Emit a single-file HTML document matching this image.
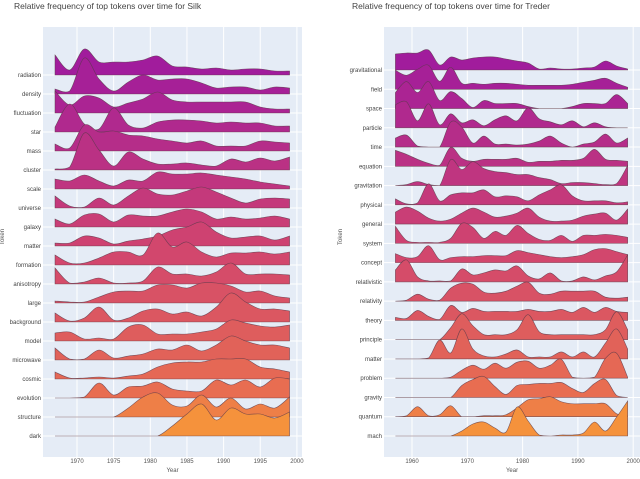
<!DOCTYPE html>
<html><head><meta charset="utf-8"><style>
body{margin:0;background:#fff;width:640px;height:474px;overflow:hidden;font-family:"Liberation Sans",sans-serif}
svg text{font-family:"Liberation Sans",sans-serif}
</style></head><body>
<svg id="c" width="640" height="474"></svg>
<script>
const silkTokens=["radiation","density","fluctuation","star","mass","cluster","scale","universe","galaxy","matter","formation","anisotropy","large","background","model","microwave","cosmic","evolution","structure","dark"];
const silkYears=[1967,1969,1971,1973,1975,1977,1979,1981,1983,1985,1987,1989,1991,1993,1995,1997,1999];
const silkValues=[
[20,5,26,13,13,13,15,19,9,8,6,7,5,6,6,4,4],
[5,3,36,15,3,12,19,14,15,15,11,6,7,7,4,7,6],
[22,8,17,15,6,10,14,21,13,11,11,11,11,11,6,4,4],
[5,28,8,3,24,7,4,10,12,12,11,9,10,9,9,6,6],
[7,3,26,19,20,16,15,12,10,8,10,5,5,5,10,9,8],
[1,3,37,20,4,18,11,6,6,7,5,4,11,8,12,9,13],
[10,8,14,8,3,9,8,17,15,15,16,14,12,10,7,5,3],
[12,2,1,10,3,12,20,14,13,17,21,16,10,5,9,10,9],
[8,3,12,13,5,12,11,11,15,18,15,8,10,8,9,11,8],
[3,3,10,8,2,5,7,10,16,19,24,14,8,9,10,6,10],
[10,2,2,7,13,13,10,32,18,23,13,8,12,12,13,11,13],
[16,1,2,6,1,1,3,17,10,10,8,12,21,10,10,10,9],
[2,1,1,6,11,12,12,18,18,15,20,20,17,11,12,7,5],
[9,1,4,15,2,4,11,13,8,10,6,15,29,20,13,13,11],
[8,9,2,3,2,14,16,7,7,7,9,12,21,18,15,14,16],
[12,1,1,10,2,4,6,11,10,15,9,15,24,19,15,15,12],
[7,1,1,2,1,3,5,12,16,17,17,20,20,20,12,10,7],
[0,0,1,15,3,11,12,16,9,7,7,18,13,18,11,20,19],
[0,0,0,0,0,9,20,24,12,11,22,10,19,8,13,9,20],
[0,0,0,0,0,0,0,0,10,22,32,16,28,22,22,18,24]];
const silkTicks=[1970,1975,1980,1985,1990,1995,2000];

const trederTokens=["gravitational","field","space","particle","time","equation","gravitation","physical","general","system","concept","relativistic","relativity","theory","principle","matter","problem","gravity","quantum","mach"];
const trederYears=[1957,1959,1961,1963,1965,1967,1969,1971,1973,1975,1977,1979,1981,1983,1985,1987,1989,1991,1993,1995,1997,1999];
const trederValues=[
[16,17,17,20,5,13,10,12,13,13,11,9,7,1,2,1,1,2,3,9,4,1],
[19,14,20,24,8,22,6,6,5,6,6,5,4,4,4,4,5,7,9,11,6,2],
[16,27,16,27,8,17,10,1,8,5,5,5,2,0,0,0,2,5,5,5,14,5],
[23,26,7,24,3,14,5,8,2,8,12,7,20,9,6,3,7,1,5,1,0,0],
[9,12,1,0,0,25,20,4,11,3,3,2,3,6,11,4,0,3,5,13,4,9],
[16,12,7,3,1,19,8,5,7,7,7,8,4,5,5,6,6,8,17,7,6,5],
[0,1,4,1,0,26,16,24,17,14,13,11,11,8,6,2,3,3,2,1,2,20],
[6,1,2,21,4,10,12,12,15,8,9,8,4,10,15,20,9,4,4,4,2,3],
[12,17,13,6,3,5,11,16,12,7,8,11,16,7,3,3,4,8,10,11,4,15],
[17,3,1,1,1,5,20,16,5,12,8,18,10,4,3,8,2,8,8,9,8,6],
[9,5,6,17,3,5,6,6,7,7,7,12,10,8,6,5,6,8,13,14,11,8],
[12,22,5,1,1,1,13,7,9,12,11,16,6,3,9,1,1,5,2,6,10,27],
[0,1,7,2,1,13,18,17,9,8,10,15,19,8,7,10,10,10,10,4,3,4],
[3,2,10,4,1,15,8,12,9,9,9,9,11,9,9,11,8,13,8,13,9,8],
[0,0,0,0,0,12,26,14,5,5,5,10,25,8,5,5,5,5,5,10,28,10],
[0,0,0,1,19,6,30,10,3,2,5,9,2,2,2,7,2,7,2,16,30,10],
[0,0,0,0,0,1,8,13,9,15,10,16,17,10,13,19,1,0,1,20,25,1],
[0,0,0,0,0,0,12,18,21,11,3,12,13,14,14,15,9,5,14,18,2,0],
[0,1,10,1,2,11,0,0,1,1,2,9,17,18,20,15,13,13,13,13,3,1],
[0,0,0,0,0,0,5,12,14,8,4,29,15,1,0,1,1,3,14,5,19,35]];
const trederTicks=[1960,1970,1980,1990,2000];

const NS="http://www.w3.org/2000/svg";
const svg=document.getElementById('c');
function mk(t,a,p){const e=document.createElementNS(NS,t);for(const k in a)e.setAttribute(k,a[k]);(p||svg).appendChild(e);return e;}
function hex(h){return [1,3,5].map(i=>parseInt(h.substr(i,2),16));}
const stops=[[0,"#a11c9c"],[0.5,"#d0446f"],[0.9,"#e86e51"],[1,"#f5923c"]];
function color(t){for(let i=1;i<stops.length;i++){if(t<=stops[i][0]){const a=hex(stops[i-1][1]),b=hex(stops[i][1]);const f=(t-stops[i-1][0])/(stops[i][0]-stops[i-1][0]);return "rgb("+a.map((v,k)=>Math.round(v+(b[k]-v)*f)).join(",")+")";}}return stops[stops.length-1][1];}

function panel(o){
  const g=mk('g',{});
  
  
  const bg=mk('rect',{x:o.x0,y:o.y0,width:o.x1-o.x0,height:o.y1-o.y0,fill:"#e5ecf6"},g);
  
  
  const X=yr=>o.xa+(yr-o.ya)*o.ppy;
  const n=o.tokens.length;
  const base=i=>o.b0+i*(o.b1-o.b0)/(n-1);
  o.ticks.forEach(t=>{
    mk('line',{x1:X(t),x2:X(t),y1:o.y0,y2:o.y1,stroke:"#fff","stroke-width":1},g);
    const tx=mk('text',{x:X(t),y:463,"font-size":6,fill:"#555","text-anchor":"middle"},g);
    tx.textContent=t;
    
    
  });
  for(let i=0;i<n;i++)mk('line',{x1:o.x0,x2:o.x1,y1:base(i),y2:base(i),stroke:"#fff","stroke-width":1},g);
  for(let i=0;i<n;i++){
    const vals=o.values[i],yrs=o.years,b=base(i);
    const pts=yrs.map((yr,k)=>[X(yr),b-vals[k]*o.scale]);
    let d="M"+pts[0][0]+","+b+" L"+pts[0][0]+","+pts[0][1];
    for(let k=0;k<pts.length-1;k++){
      const p0=pts[k-1]||pts[k],p1=pts[k],p2=pts[k+1],p3=pts[k+2]||p2;
      const c1y=Math.min(b,p1[1]+(p2[1]-p0[1])/6),c2y=Math.min(b,p2[1]-(p3[1]-p1[1])/6);
      d+=" C"+(p1[0]+(p2[0]-p0[0])/6)+","+c1y+" "+(p2[0]-(p3[0]-p1[0])/6)+","+c2y+" "+p2[0]+","+p2[1];
    }
    d+=" L"+pts[pts.length-1][0]+","+b+" Z";
    const p=mk('path',{d:d,fill:color(i/(n-1)),stroke:"#5a3a4a","stroke-width":0.6,"stroke-opacity":0.8},g);
    
    
    const l=mk('text',{x:o.x0-2,y:b+2,"font-size":6,fill:"#444","text-anchor":"end"},g);
    l.textContent=o.tokens[i];
    
    
  }
  const ti=mk('text',{x:o.tx,y:9,"font-size":8.5,fill:"#444"},g);
  ti.textContent=o.title;
  
  
  const xt=mk('text',{x:(o.x0+o.x1)/2,y:472,"font-size":6,fill:"#555","text-anchor":"middle"},g);
  xt.textContent="Year";
  
  
  const yt=mk('text',{x:o.ytx,y:237,"font-size":6,fill:"#555","text-anchor":"middle",transform:"rotate(-90 "+o.ytx+" 237)"},g);
  yt.textContent="Token";
  
  
}
panel({name:'silk-panel',title:"Relative frequency of top tokens over time for Silk",tx:14,x0:43,x1:302,y0:27,y1:457,xa:77,ya:1970,ppy:7.33,b0:75,b1:436,scale:1,tokens:silkTokens,years:silkYears,values:silkValues,ticks:silkTicks,ytx:4});
panel({name:'treder-panel',title:"Relative frequency of top tokens over time for Treder",tx:352,x0:384,x1:640,y0:27,y1:457,xa:412,ya:1960,ppy:5.53,b0:70,b1:436,scale:1,tokens:trederTokens,years:trederYears,values:trederValues,ticks:trederTicks,ytx:342});
</script>
</body></html>
